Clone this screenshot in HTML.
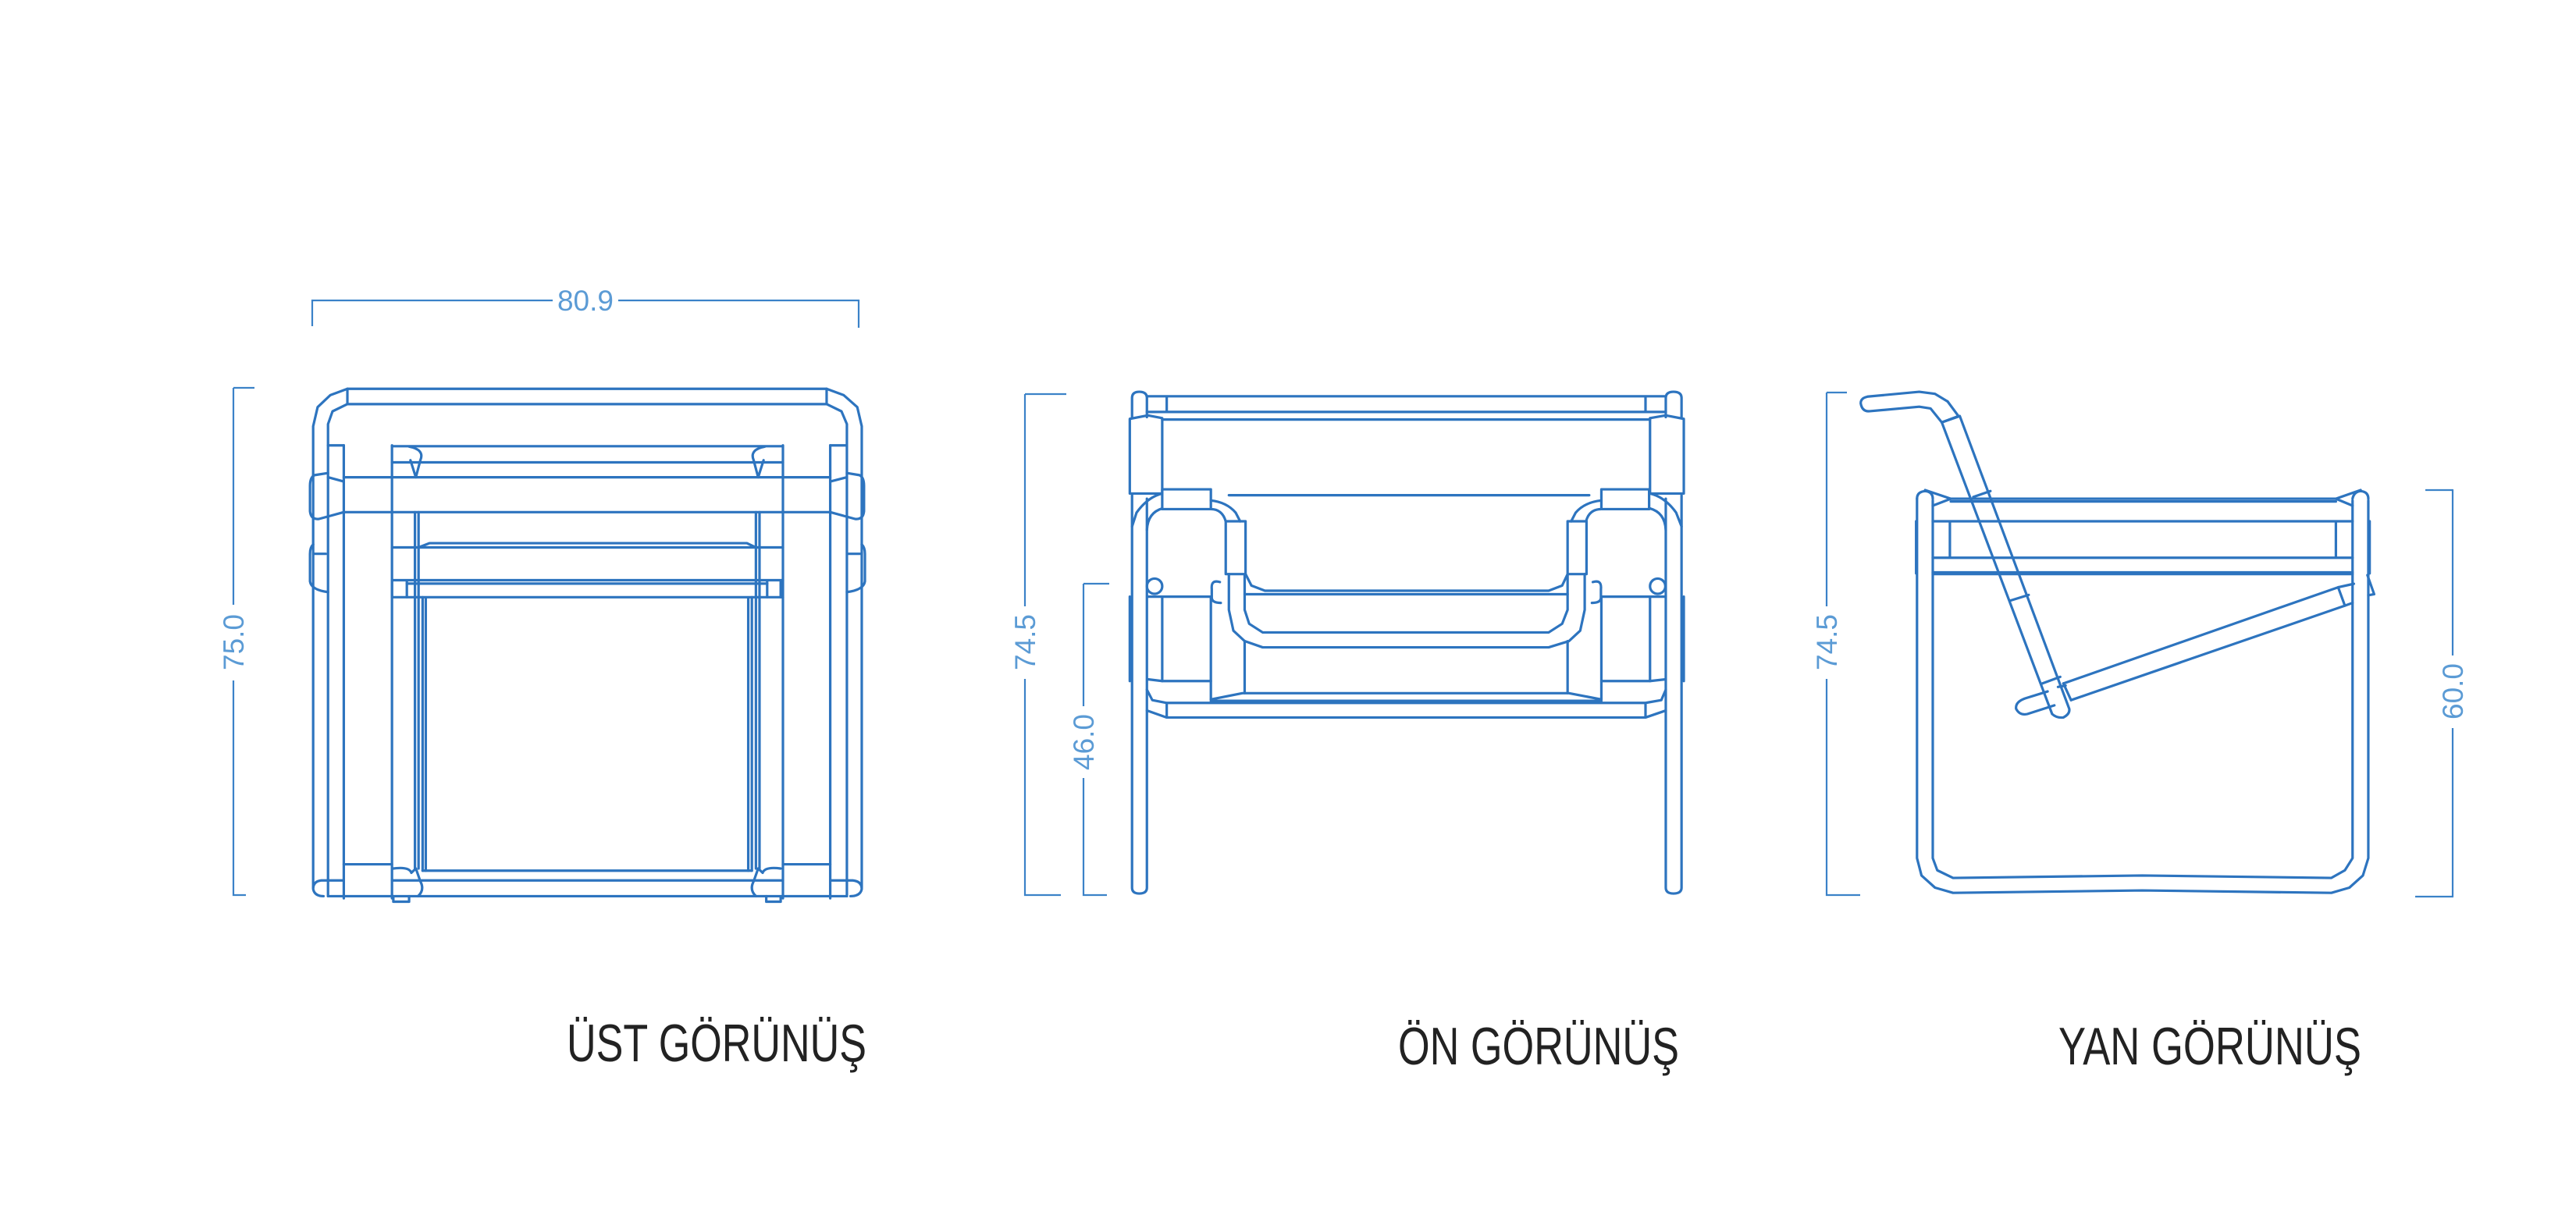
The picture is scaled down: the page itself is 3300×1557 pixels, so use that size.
<!DOCTYPE html>
<html><head><meta charset="utf-8"><style>
html,body{margin:0;padding:0;background:#fff;}
svg{display:block}
.f{fill:none;stroke:#2d74bf;stroke-width:3.2;stroke-linejoin:round;stroke-linecap:round;vector-effect:non-scaling-stroke}
.d{fill:none;stroke:#3b82c8;stroke-width:2.2}
.dt{fill:#5b9bd5;font-family:"Liberation Sans",sans-serif;font-size:37px}
.lbl{fill:#222;font-family:"Liberation Sans","DejaVu Sans",sans-serif;font-size:68px}
</style></head><body>
<svg width="3300" height="1557" viewBox="0 0 3300 1557" xmlns="http://www.w3.org/2000/svg">
<rect width="3300" height="1557" fill="#fff"/>

<!-- DIMENSIONS (original coords) -->
<path class="d" d="M400,418 V385 H708 M792,385 H1100 V420"/>
<text class="dt" x="750" y="398" text-anchor="middle">80.9</text>
<path class="d" d="M299,497 H326 M299,497 V775 M299,872 V1147 H315"/>
<text class="dt" transform="translate(312,823) rotate(-90)" text-anchor="middle">75.0</text>

<path class="d" d="M1313,505 H1366 M1313,505 V777 M1313,870 V1147 H1359"/>
<text class="dt" transform="translate(1326,823) rotate(-90)" text-anchor="middle">74.5</text>
<path class="d" d="M1388,748 H1421 M1388,748 V905 M1388,997 V1147 H1418"/>
<text class="dt" transform="translate(1401,951) rotate(-90)" text-anchor="middle">46.0</text>

<path class="d" d="M2340,503 H2366 M2340,503 V777 M2340,870 V1147 H2383"/>
<text class="dt" transform="translate(2353,823) rotate(-90)" text-anchor="middle">74.5</text>
<path class="d" d="M3107,628 H3143 M3142,628 V840 M3142,933 V1149 M3094,1149 H3143"/>
<text class="dt" transform="translate(3155,886) rotate(-90)" text-anchor="middle">60.0</text>

<!-- TOP VIEW -->
<g transform="translate(250,350) scale(0.577,0.545)">
 <path class="f" d="M262,1445 V360 L272,315 L300,287 L338,272 H1402 L1440,287 L1470,315 L1480,360 V1445"/>
 <path class="f" d="M295,1465 V355 L305,325 L338,308 H1402 L1435,325 L1447,355 V1465"/>
 <path class="f" d="M338,272 V308 M1402,272 V308"/>
 <path class="f" d="M330,405 V1470 M437,405 V1470 M1305,405 V1470 M1410,405 V1470"/>
 <path class="f" d="M295,405 H330 M1410,405 H1447"/>
 <path class="f" d="M437,407 H1305 M437,445 H1305 M330,480 H1410 M330,562 H1410"/>
 <path class="f" d="M475,408 Q510,415 500,440 L490,480 L478,440 M1265,408 Q1230,415 1240,440 L1250,480 L1262,440"/>
 <path class="f" d="M295,470 L265,475 Q255,480 255,500 V560 Q257,580 275,578 L330,562"/>
 <path class="f" d="M1447,470 L1475,475 Q1485,480 1485,500 V560 Q1483,580 1465,578 L1410,562"/>
 <path class="f" d="M295,480 L330,490 M1447,480 L1410,490"/>
 <path class="f" d="M262,638 Q255,645 255,660 V725 Q258,745 295,750 M1480,638 Q1487,645 1487,660 V725 Q1484,745 1447,750"/>
 <path class="f" d="M262,660 H290 M1450,660 H1480"/>
 <path class="f" d="M488,562 V1400 M496,562 V1400 M1245,562 V1400 M1253,562 V1400"/>
 <path class="f" d="M496,645 L520,635 H1225 L1245,645 M437,645 H1305"/>
 <path class="f" d="M437,722 H1305 M470,730 H1270 M437,762 H1305"/>
 <path class="f" d="M437,725 V762 M470,725 V762 M1270,725 V762 M1300,725 V762"/>
 <path class="f" d="M505,762 V1405 M512,765 V1405 M1228,765 V1405 M1236,762 V1405"/>
 <path class="f" d="M330,1390 H437 M1305,1390 H1410 M505,1405 H1236 M437,1428 H1305 M295,1465 H1447"/>
 <path class="f" d="M330,1428 H280 Q262,1430 262,1448 Q265,1465 285,1465 M1410,1428 H1460 Q1480,1430 1480,1448 Q1477,1465 1455,1465"/>
 <path class="f" d="M440,1400 Q475,1395 480,1410 L490,1400 L500,1430 Q510,1450 495,1465 M1300,1400 Q1265,1395 1260,1410 L1250,1400 L1240,1430 Q1230,1450 1245,1465"/>
 <path class="f" d="M440,1465 V1478 H475 V1465 M1268,1465 V1478 H1300 V1465"/>
</g>

<!-- FRONT VIEW -->
<g transform="translate(1280,470) scale(0.577,0.445)">
 <path class="f" d="M295,145 V90 Q295,72 311,72 Q328,72 328,90 V145 M295,370 V1500 Q295,1517 311,1517 Q328,1517 328,1500 V380"/>
 <path class="f" d="M1480,145 V90 Q1480,72 1497,72 Q1515,72 1515,90 V145 M1515,370 V1500 Q1515,1517 1497,1517 Q1480,1517 1480,1500 V380"/>
 <path class="f" d="M328,85 H1480 M328,130 H1480 M372,85 V130 M1435,85 V130"/>
 <path class="f" d="M290,150 L330,140 L362,148 V365 L290,365 Z M1520,150 L1480,140 L1445,148 V365 L1520,365 Z"/>
 <path class="f" d="M362,152 H1445 M510,370 H1310"/>
 <rect class="f" x="362" y="353" width="108" height="57"/>
 <rect class="f" x="1337" y="353" width="106" height="57"/>
 <path class="f" d="M362,365 Q330,375 305,420 L295,460 M328,470 Q330,420 362,408 M1445,365 Q1478,375 1503,420 L1515,460 M1480,470 Q1478,420 1445,408"/>
 <path class="f" d="M470,385 Q505,390 525,420 L535,445 M470,410 Q495,410 503,445 M1337,385 Q1300,390 1280,420 L1270,445 M1337,410 Q1310,410 1303,445"/>
 <rect class="f" x="503" y="445" width="44" height="152"/>
 <rect class="f" x="1262" y="445" width="42" height="152"/>
 <path class="f" d="M510,597 V700 L520,760 L545,790 L585,808 H1220 L1265,790 L1290,760 L1300,700 V597"/>
 <path class="f" d="M545,597 V700 L555,740 L585,765 H1220 L1250,740 L1262,700 V597"/>
 <path class="f" d="M547,597 L560,630 L590,645 H1220 L1250,630 L1262,597 M545,655 H1262"/>
 <ellipse class="f" cx="345" cy="632" rx="17" ry="22"/>
 <ellipse class="f" cx="1462" cy="632" rx="17" ry="22"/>
 <path class="f" d="M330,662 H470 M1337,662 H1480 M362,662 V905 M1445,662 V905 M470,662 V958 M1337,662 V958"/>
 <path class="f" d="M490,620 Q470,612 472,640 V665 Q472,680 492,680 M1318,620 Q1338,612 1336,640 V665 Q1336,680 1316,680"/>
 <path class="f" d="M290,662 V905 M1520,662 V905"/>
 <path class="f" d="M330,900 L362,905 H470 M1480,900 L1445,905 H1337"/>
 <path class="f" d="M545,790 V940 M1262,790 V940"/>
 <path class="f" d="M470,958 L540,940 H1265 L1337,958 M470,962 H1337"/>
 <path class="f" d="M328,930 L340,960 L372,968 H1435 L1470,960 L1480,930 M328,990 L372,1010 H1435 L1480,990 M372,968 V1010 M1435,968 V1010"/>
</g>

<!-- SIDE VIEW -->
<g transform="translate(2300,470) scale(0.577,0.445)">
 <path class="f" d="M270,380 V1415 L280,1465 L310,1500 L350,1515 L770,1508 L1190,1515 L1230,1500 L1260,1465 L1272,1415 V385"/>
 <path class="f" d="M305,385 V1415 L315,1450 L350,1472 L770,1465 L1190,1472 L1220,1450 L1237,1415 V385"/>
 <path class="f" d="M270,380 Q270,360 288,358 Q305,360 305,380 M1237,380 Q1240,360 1255,358 Q1272,360 1272,380"/>
 <path class="f" d="M288,355 L345,380 L305,400 M1255,355 L1200,380 L1237,400"/>
 <path class="f" d="M345,380 H1200 M345,388 H1200 M305,445 H1237 M343,445 V550 M1200,445 V550 M305,550 H1237 M305,597 H1237 M305,592 H1237"/>
 <path class="f" d="M268,445 V595 M1275,445 V595 M1270,600 L1285,655 L1272,658"/>
 <path class="f" d="M338,100 L310,78 L275,72 L160,86 Q145,90 145,105 Q148,130 165,128 L275,115 L300,120 L325,160"/>
 <path class="f" d="M338,100 L362,142"/>
 <path class="f" d="M325,160 L570,1000 Q580,1012 595,1010 Q610,1000 608,985 L365,142 Z"/>
 <path class="f" d="M325,160 L362,142 M395,375 L433,358 M478,673 L518,657 M548,912 L588,893"/>
 <path class="f" d="M560,935 L510,955 Q488,965 490,985 Q498,1005 515,1000 L575,975"/>
 <path class="f" d="M595,912 L1205,635 L1240,625 M612,960 L1220,688 L1237,680"/>
 <path class="f" d="M595,912 L612,960 M1205,635 L1220,688 M600,918 L583,922"/>
</g>

<!-- titles -->
<text class="lbl" x="726" y="1360" textLength="384" lengthAdjust="spacingAndGlyphs">ÜST GÖRÜNÜŞ</text>
<text class="lbl" x="1791" y="1364" textLength="360" lengthAdjust="spacingAndGlyphs">ÖN GÖRÜNÜŞ</text>
<text class="lbl" x="2637" y="1364" textLength="388" lengthAdjust="spacingAndGlyphs">YAN GÖRÜNÜŞ</text>
</svg>
</body></html>
